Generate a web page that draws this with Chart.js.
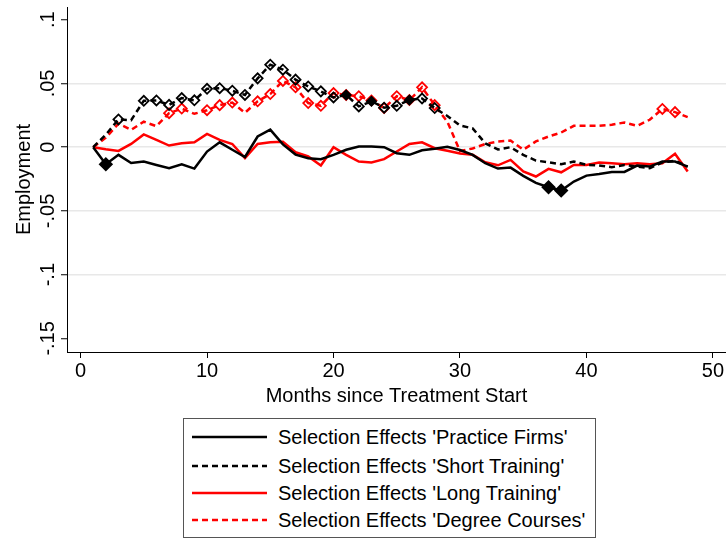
<!DOCTYPE html>
<html>
<head>
<meta charset="utf-8">
<script src="https://cdn.jsdelivr.net/npm/chart.js@4.4.1/dist/chart.umd.min.js"></script>
<style>
html,body{margin:0;padding:0;background:#fff;}
#wrap{position:relative;width:726px;height:540px;overflow:hidden;}
#c{position:absolute;left:0;top:0;}
#legend{position:absolute;left:183px;top:418px;width:413px;height:120px;border:1px solid #555;box-sizing:border-box;font-family:"Liberation Sans",Arial,sans-serif;font-size:20px;color:#000;background:#fff;}
.row{position:absolute;left:0;height:24px;display:flex;align-items:center;white-space:nowrap;}
.row svg{margin-left:8px;margin-right:11px;}
</style>
</head>
<body>
<div id="wrap">
<canvas id="c" width="726" height="540"></canvas>
<div id="legend"></div>
</div>
<script>
// ---------- data ----------
const months = [1,2,3,4,5,6,7,8,9,10,11,12,13,14,15,16,17,18,19,20,21,22,23,24,
                25,26,27,28,29,30,31,32,33,34,35,36,37,38,39,40,41,42,43,44,45,46,47,48];

const practiceFirms = [0,-0.0134,-0.006,-0.0124,-0.0113,-0.014,-0.0165,-0.0135,-0.0168,-0.0034,
  0.0038,-0.002,-0.0077,0.0084,0.0138,0.0022,-0.0058,-0.0086,-0.0094,-0.006,
  -0.002,0.0005,0.0005,0,-0.0047,-0.006,-0.0024,-0.0012,0.0003,-0.0022,
  -0.006,-0.0126,-0.0168,-0.016,-0.0225,-0.028,-0.0314,-0.034,-0.027,-0.0223,
  -0.021,-0.0194,-0.0194,-0.0144,-0.0152,-0.0113,-0.0113,-0.0152];

const shortTraining = [0,0.0098,0.0218,0.0212,0.0364,0.0367,0.0332,0.0385,0.0368,0.0458,
  0.0463,0.0443,0.041,0.054,0.0647,0.0608,0.053,0.0477,0.0438,0.039,
  0.041,0.032,0.036,0.031,0.0325,0.037,0.0382,0.0307,0.0245,0.017,
  0.0148,0.003,-0.0018,0,-0.006,-0.0105,-0.0118,-0.0134,-0.0113,-0.0139,
  -0.0144,-0.0157,-0.0139,-0.0152,-0.0165,-0.012,-0.0107,-0.0152];

const longTraining = [0,-0.0016,-0.0029,0.0026,0.01,0.0058,0.0013,0.0031,0.0038,0.0104,
  0.0057,0.0025,-0.0086,0.0025,0.0038,0.0042,-0.004,-0.0073,-0.0144,0,
  -0.006,-0.0113,-0.012,-0.0094,-0.0034,0.0025,0.0038,-0.0008,-0.0028,-0.005,
  -0.006,-0.0118,-0.0142,-0.01,-0.019,-0.023,-0.017,-0.0197,-0.0139,-0.0139,
  -0.012,-0.0126,-0.0134,-0.0126,-0.0134,-0.0126,-0.0052,-0.019];

const degreeCourses = [0,0.0075,0.0185,0.0136,0.02,0.0165,0.0267,0.0303,0.0262,0.029,
  0.033,0.035,0.027,0.036,0.0417,0.052,0.047,0.0346,0.0325,0.0425,
  0.041,0.04,0.0367,0.0307,0.04,0.037,0.047,0.033,0.02,-0.003,
  -0.001,0.0025,0.0045,0.0052,-0.002,0.0045,0.0084,0.0115,0.0168,0.0168,
  0.0168,0.0176,0.0194,0.0168,0.0215,0.03,0.0275,0.0236];

// months flagged with diamond markers (filled / hollow)
const practiceFilled = [2,37,38];
const shortHollow = [3,5,6,7,8,9,10,11,12,13,14,15,16,17,18,19,20,22,24,25,27,28];
const shortFilled = [21,23,26];
const degreeHollow = [7,8,10,11,12,14,15,16,17,18,19,20,21,22,23,24,25,26,27,28,46,47];

const xTicks = [0,10,20,30,40,50];
const yTicks = [-0.15,-0.1,-0.05,0,0.05,0.1];
const yTickLabels = ['-.15','-.1','-.05','0','.05','.1'];

const seriesNames = ["Selection Effects 'Practice Firms'","Selection Effects 'Short Training'",
  "Selection Effects 'Long Training'","Selection Effects 'Degree Courses'"];

// ---------- chart ----------
const FONT = '"Liberation Sans", Arial, sans-serif';
const pts = vals => months.map((m,i)=>({x:m,y:vals[i]}));
const radii = (hollow, filled, rh, rf) => months.map(m => filled.includes(m) ? rf : (hollow.includes(m) ? rh : 0));
const fills = (filled, col) => months.map(m => filled.includes(m) ? col : 'rgba(255,255,255,0)');

const styles = [
  {data:practiceFirms, color:'#000000', dash:[], hollow:[], filled:practiceFilled, rf:6},
  {data:shortTraining, color:'#000000', dash:[6,4], hollow:shortHollow, filled:shortFilled, rf:4.5},
  {data:longTraining, color:'#ff0000', dash:[], hollow:[], filled:[], rf:5},
  {data:degreeCourses, color:'#ff0000', dash:[6,4], hollow:degreeHollow, filled:[], rf:5}
];

const datasets = styles.map((s,i)=>({
  label: seriesNames[i],
  data: pts(s.data),
  borderColor: s.color,
  borderWidth: 2.5,
  borderDash: s.dash,
  tension: 0,
  fill: false,
  pointStyle: 'rectRot',
  pointRadius: radii(s.hollow, s.filled, 5, s.rf),
  pointBorderColor: s.color,
  pointBackgroundColor: fills(s.filled, s.color),
  pointBorderWidth: 1.8,
  pointHoverRadius: 0
}));

const yLabelPlugin = {
  id:'yLabels',
  afterDraw(chart){
    const {ctx, scales:{y}} = chart;
    ctx.save();
    ctx.fillStyle = '#000';
    ctx.font = '20px ' + FONT;
    ctx.textAlign = 'center';
    ctx.textBaseline = 'middle';
    yTicks.forEach((v,i)=>{
      const py = y.getPixelForValue(v);
      ctx.save();
      ctx.translate(48, py);
      ctx.rotate(-Math.PI/2);
      ctx.fillText(yTickLabels[i], 0, 0);
      ctx.restore();
    });
    ctx.restore();
  }
};

new Chart(document.getElementById('c'), {
  type:'line',
  data:{datasets},
  options:{
    responsive:false,
    animation:false,
    events:[],
    layout:{padding:{top:7,right:0,bottom:132,left:0}},
    plugins:{legend:{display:false}, tooltip:{enabled:false}},
    scales:{
      x:{
        type:'linear', min:-1.07, max:51.03,
        afterBuildTicks:s=>{s.ticks = xTicks.map(v=>({value:v}));},
        afterFit:s=>{s.height = 56;},
        ticks:{color:'#000', font:{family:FONT,size:20}, padding:1, maxRotation:0, callback:v=>String(v)},
        grid:{drawOnChartArea:false, drawTicks:true, tickLength:6, tickColor:'#000', tickWidth:1},
        border:{color:'#000', width:1},
        title:{display:true, text:'Months since Treatment Start', color:'#000', font:{family:FONT,size:20}, padding:{top:0,bottom:0}}
      },
      y:{
        type:'linear', min:-0.1607, max:0.11,
        afterBuildTicks:s=>{s.ticks = yTicks.map(v=>({value:v}));},
        afterFit:s=>{s.width = 67;},
        ticks:{display:false},
        grid:{
          color:c=> (c.tick && (c.tick.value===0.1 || c.tick.value===-0.15)) ? 'rgba(0,0,0,0)' : '#e8e8e8',
          lineWidth:1.5, drawTicks:true, tickLength:6, tickColor:'#000', tickWidth:1
        },
        border:{color:'#000', width:1},
        title:{display:true, text:'Employment', color:'#000', font:{family:FONT,size:20}, padding:{top:12,bottom:0}}
      }
    }
  },
  plugins:[yLabelPlugin]
});

// ---------- legend (HTML) ----------
const legendRowY = [6, 35, 62, 89];
const leg = document.getElementById('legend');
styles.forEach((s,i)=>{
  const row = document.createElement('div');
  row.className = 'row';
  row.style.top = legendRowY[i] + 'px';
  const dash = s.dash.length ? `stroke-dasharray="${s.dash.join(',')}"` : '';
  row.innerHTML = `<svg width="75" height="6"><line x1="0" y1="3" x2="75" y2="3" stroke="${s.color}" stroke-width="2.5" ${dash}/></svg><span>${seriesNames[i]}</span>`;
  leg.appendChild(row);
});
</script>
</body>
</html>
